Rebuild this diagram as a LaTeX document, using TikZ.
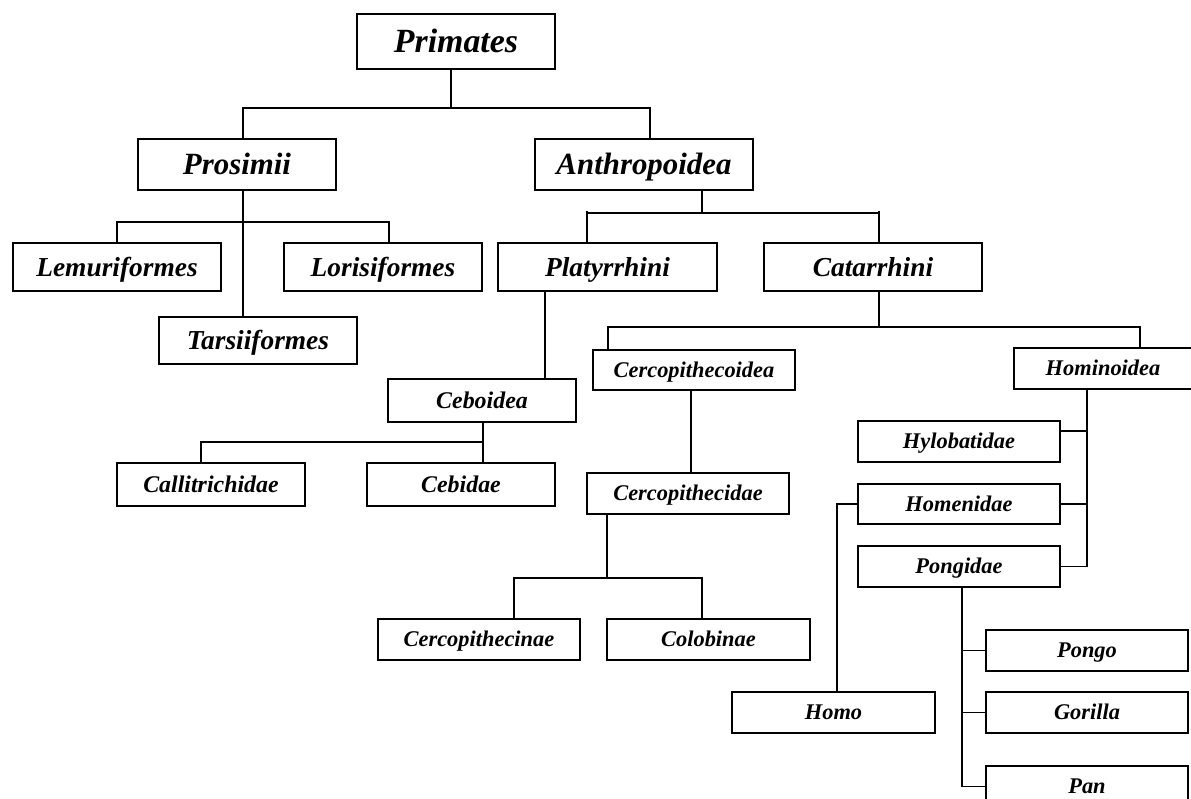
\documentclass[tikz,border=0pt]{standalone}
\usepackage{fontspec}
\setmainfont{Liberation Serif}
\begin{document}
\begin{tikzpicture}[x=1bp,y=-1bp,
  box/.style={draw=black,line width=1.1bp,inner sep=0pt,rectangle,text height=14.9bp,text depth=0pt,font=\bfseries\itshape\fontsize{22.5}{26}\selectfont},
  fA/.style={font=\bfseries\itshape\fontsize{34}{40}\selectfont,text height=22.4bp},
  fB/.style={font=\bfseries\itshape\fontsize{31}{36}\selectfont,text height=20.5bp},
  fC/.style={font=\bfseries\itshape\fontsize{27.5}{32}\selectfont,text height=18.2bp},
  fD/.style={font=\bfseries\itshape\fontsize{24}{28}\selectfont,text height=15.8bp},
  link/.style={draw=black,line width=1.1bp}]
\useasboundingbox (0,0) rectangle (1191,799);
\clip (0,0) rectangle (1191,799);
% nodes
\node[box,fA,minimum width=198bp,minimum height=55bp] (Primates) at (456,41.5) {Primates};
\node[box,fB,minimum width=198bp,minimum height=51bp] (Prosimii) at (237,164.5) {Prosimii};
\node[box,fB,minimum width=218bp,minimum height=51bp] (Anthropoidea) at (644,164.5) {Anthropoidea};
\node[box,fC,minimum width=208bp,minimum height=48bp] (Lemuriformes) at (117,267) {Lemuriformes};
\node[box,fC,minimum width=198bp,minimum height=48bp] (Lorisiformes) at (383,267) {Lorisiformes};
\node[box,fC,minimum width=198bp,minimum height=47bp] (Tarsiiformes) at (258,340.5) {Tarsiiformes};
\node[box,fC,minimum width=219bp,minimum height=48bp] (Platyrrhini) at (607.5,267) {Platyrrhini};
\node[box,fC,minimum width=218bp,minimum height=48bp] (Catarrhini) at (873,267) {Catarrhini};
\node[box,fD,minimum width=188bp,minimum height=43bp] (Ceboidea) at (482,400.5) {Ceboidea};
\node[box,fD,minimum width=188bp,minimum height=43bp] (Callitrichidae) at (211,484.5) {Callitrichidae};
\node[box,fD,minimum width=188bp,minimum height=43bp] (Cebidae) at (461,484.5) {Cebidae};
\node[box,minimum width=202bp,minimum height=40bp] (Cercopithecoidea) at (694,370) {Cercopithecoidea};
\node[box,minimum width=178bp,minimum height=41bp] (Hominoidea) at (1103,368.5) {Hominoidea};
\node[box,minimum width=202bp,minimum height=41bp] (Cercopithecidae) at (688,493.5) {Cercopithecidae};
\node[box,minimum width=202bp,minimum height=41bp] (Cercopithecinae) at (479,639.5) {Cercopithecinae};
\node[box,minimum width=203bp,minimum height=41bp] (Colobinae) at (708.5,639.5) {Colobinae};
\node[box,minimum width=202bp,minimum height=41bp] (Hylobatidae) at (959,441.5) {Hylobatidae};
\node[box,minimum width=202bp,minimum height=40bp] (Homenidae) at (959,504) {Homenidae};
\node[box,minimum width=202bp,minimum height=41bp] (Pongidae) at (959,566.5) {Pongidae};
\node[box,minimum width=203bp,minimum height=41bp] (Homo) at (833.5,712.5) {Homo};
\node[box,minimum width=202bp,minimum height=41bp] (Pongo) at (1087,650.5) {Pongo};
\node[box,minimum width=202bp,minimum height=41bp] (Gorilla) at (1087,712.5) {Gorilla};
\node[box,minimum width=202bp,minimum height=41bp] (Pan) at (1087,786.5) {Pan};
% junction coordinates
\coordinate (pA) at (451,108);
\coordinate (pAl) at (243,108);
\coordinate (pAr) at (650,108);
\coordinate (pB) at (243,222);
\coordinate (pBl) at (117,222);
\coordinate (pBr) at (389,222);
\coordinate (pC) at (702,213);
\coordinate (pCl) at (587,211);
\coordinate (pCr) at (879,211);
\coordinate (pD) at (545,0);
\coordinate (pE) at (483,442);
\coordinate (pEl) at (201,442);
\coordinate (pF) at (879,327);
\coordinate (pFl) at (608,327);
\coordinate (pFr) at (1140,327);
\coordinate (pJ) at (691,0);
\coordinate (pK) at (607,578);
\coordinate (pKl) at (514,578);
\coordinate (pKr) at (702,578);
\coordinate (pG) at (1087,0);
\coordinate (pGh) at (1087,431);
\coordinate (pH) at (837,0);
\coordinate (pI) at (962,0);
% connectors
\draw[link] (Primates.south -| pA) -- (pA);
\draw[link] (Prosimii.north -| pAl) -- (pAl) -- (pAr) -- (Anthropoidea.north -| pAr);
\draw[link] (Prosimii.south -| pB) -- (Tarsiiformes.north -| pB);
\draw[link] (Lemuriformes.north -| pBl) -- (pBl) -- (pBr) -- (Lorisiformes.north -| pBr);
\draw[link] (Anthropoidea.south -| pC) -- (pC);
\draw[link] (Platyrrhini.north -| pCl) -- (pCl);
\draw[link] (Catarrhini.north -| pCr) -- (pCr);
\draw[link] (pCl |- pC) -- (pCr |- pC);
\draw[link] (Platyrrhini.south -| pD) -- (Ceboidea.north -| pD);
\draw[link] (Ceboidea.south -| pE) -- (Cebidae.north -| pE);
\draw[link] (pE) -- (pEl) -- (Callitrichidae.north -| pEl);
\draw[link] (Catarrhini.south -| pF) -- (pF);
\draw[link] (Cercopithecoidea.north -| pFl) -- (pFl) -- (pFr) -- (Hominoidea.north -| pFr);
\draw[link] (Cercopithecoidea.south -| pJ) -- (Cercopithecidae.north -| pJ);
\draw[link] (Cercopithecidae.south -| pK) -- (pK);
\draw[link] (Cercopithecinae.north -| pKl) -- (pKl) -- (pKr) -- (Colobinae.north -| pKr);
\draw[link] (Hominoidea.south -| pG) |- (Pongidae.east);
\draw[link] (Homenidae.east) -- (Homenidae.east -| pG);
\draw[link] (pGh) -- (Hylobatidae.east |- pGh);
\draw[link] (Homenidae.west) -| (Homo.north -| pH);
\draw[link] (Pongidae.south -| pI) |- (Pan.west);
\draw[link] (Pongo.west -| pI) -- (Pongo.west);
\draw[link] (Gorilla.west -| pI) -- (Gorilla.west);
\end{tikzpicture}
\end{document}
